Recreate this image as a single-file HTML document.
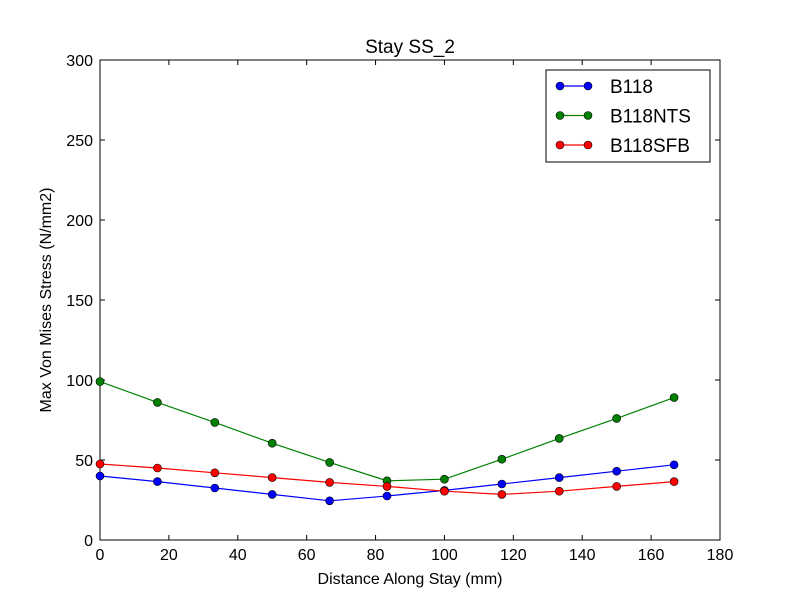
<!DOCTYPE html>
<html><head><meta charset="utf-8"><style>
body{margin:0;background:#fff;}
svg{display:block;font-family:"Liberation Sans","DejaVu Sans",sans-serif;}
</style></head><body>
<svg id="chart" width="800" height="600">
<rect width="800" height="600" fill="#fff"/>
<text x="410" y="53" text-anchor="middle" font-size="19">Stay SS_2</text>
<g id="axes"></g>
<g id="series"></g>
<text x="410" y="584" text-anchor="middle" font-size="16">Distance Along Stay (mm)</text>
<text x="51" y="300" text-anchor="middle" font-size="16" transform="rotate(-90 51 300)">Max Von Mises Stress (N/mm2)</text>
<g id="legend"></g>
</svg>
<script>
const xValues=[0,16.67,33.33,50,66.67,83.33,100,116.67,133.33,150,166.67];
const b118=[40,36.5,32.5,28.5,24.5,27.5,31,35,39,43,47];
const b118nts=[99,86,73.5,60.5,48.5,37,38,50.5,63.5,76,89];
const b118sfb=[47.5,45,42,39,36,33.5,30.5,28.5,30.5,33.5,36.5];
const seriesNames=["B118","B118NTS","B118SFB"];
const xTicks=[0,20,40,60,80,100,120,140,160,180];
const yTicks=[0,50,100,150,200,250,300];
const NS="http://www.w3.org/2000/svg";
const L=100,R=720,T=60,B=540;
const sx=v=>L+(v-0)/(180-0)*(R-L);
const sy=v=>B-(v-0)/(300-0)*(B-T);
function mk(tag,attrs,parent){const e=document.createElementNS(NS,tag);for(const k in attrs)e.setAttribute(k,attrs[k]);parent.appendChild(e);return e;}
const axes=document.getElementById('axes');
xTicks.forEach(t=>{const x=sx(t);
 const g=mk('g',{},axes);
 
 
 mk('line',{x1:x,x2:x,y1:B,y2:B-5,stroke:'#000'},g);
 mk('line',{x1:x,x2:x,y1:T,y2:T+5,stroke:'#000'},g);
 const tx=mk('text',{x:x,y:B+20,'text-anchor':'middle','font-size':16},g);tx.textContent=t;});
yTicks.forEach(t=>{const y=sy(t);
 const g=mk('g',{},axes);
 
 
 mk('line',{x1:L,x2:L+5,y1:y,y2:y,stroke:'#000'},g);
 mk('line',{x1:R,x2:R-5,y1:y,y2:y,stroke:'#000'},g);
 const tx=mk('text',{x:L-7,y:y+6,'text-anchor':'end','font-size':16},g);tx.textContent=t;});
const frame=mk('rect',{x:L,y:T,width:R-L,height:B-T,fill:'none',stroke:'#000'},axes);


const colors=['#0000ff','#008000','#ff0000'];
const data=[b118,b118nts,b118sfb];
const sg=document.getElementById('series');
data.forEach((d,i)=>{
 const g=mk('g',{},sg);
 
 
 mk('polyline',{points:d.map((v,j)=>sx(xValues[j])+','+sy(v)).join(' '),fill:'none',stroke:colors[i],'stroke-width':1.2},g);
 d.forEach((v,j)=>{const c=mk('circle',{cx:sx(xValues[j]),cy:sy(v),r:4,fill:colors[i],stroke:'#000','stroke-width':0.6},g);
  
  });
});
const lg=document.getElementById('legend');


mk('rect',{x:546,y:70,width:164,height:92,fill:'#fff',stroke:'#000'},lg);
seriesNames.forEach((n,i)=>{const y=86+i*29.5;
 const g=mk('g',{},lg);
 
 
 mk('line',{x1:560,x2:588,y1:y,y2:y,stroke:colors[i],'stroke-width':1.2},g);
 mk('circle',{cx:560,cy:y,r:4,fill:colors[i],stroke:'#000','stroke-width':0.6},g);
 mk('circle',{cx:588,cy:y,r:4,fill:colors[i],stroke:'#000','stroke-width':0.6},g);
 const t=mk('text',{x:610,y:y+7,'font-size':19},g);t.textContent=n;});
</script>
</body></html>
